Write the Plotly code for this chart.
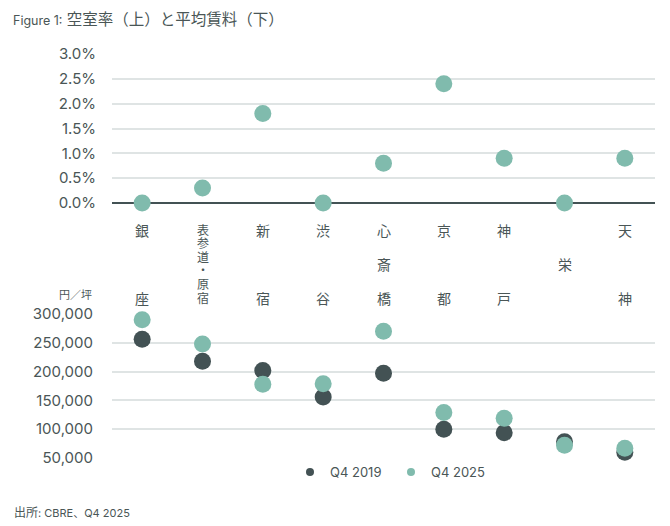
import plotly.graph_objects as go

categories = ["銀座", "表参道・原宿", "新宿", "渋谷", "心斎橋", "京都", "神戸", "栄", "天神"]
vacancy_pct = [0.0, 0.3, 1.8, 0.0, 0.8, 2.4, 0.9, 0.0, 0.9]
rent_2019 = [256000, 218000, 202000, 156000, 197000, 100000, 94000, 78000, 60000]
rent_2025 = [290000, 248000, 178000, 179000, 270000, 129000, 119000, 72000, 67000]
vac_ticks = [0, 0.5, 1.0, 1.5, 2.0, 2.5, 3.0]
rent_ticks = [50000, 100000, 150000, 200000, 250000, 300000]
series_names = ["Q4 2019", "Q4 2025"]

DARK = "#435254"
TEAL = "#80BBAD"
GRID = "#dfe4e4"
TXT = "#4a5656"
FONT = "Inter, Noto Sans CJK JP, sans-serif"

OFF = 8  # page body offset
W, H = 670 - OFF, 526 - OFF
# reference pixel positions of the plot frame
RL, RR, RT, RB = 112, 655, 54, 458
L, R, T, B = RL - OFF, 670 - RR, RT - OFF, 526 - RB
PH = RB - RT

def py(pix):
    return (RB - pix) / PH

def px(pix):
    return (pix - RL) / (RR - RL)

fig = go.Figure()
xs = list(range(len(categories)))

fig.add_trace(go.Scatter(x=xs, y=vacancy_pct, mode="markers", xaxis="x", yaxis="y",
                         marker=dict(size=17, color=TEAL), showlegend=False, cliponaxis=False,
                         hoverinfo="skip"))
fig.add_trace(go.Scatter(x=xs, y=rent_2019, mode="markers", xaxis="x2", yaxis="y2",
                         marker=dict(size=17, color=DARK), showlegend=False, cliponaxis=False))
fig.add_trace(go.Scatter(x=xs, y=rent_2025, mode="markers", xaxis="x2", yaxis="y2",
                         marker=dict(size=17, color=TEAL), showlegend=False, cliponaxis=False))
for nm, col in zip(series_names, [DARK, TEAL]):
    fig.add_trace(go.Scatter(x=[None], y=[None], mode="markers", name=nm, xaxis="x2", yaxis="y2",
                             marker=dict(size=8, color=col), showlegend=True))

top_dom = [py(203), py(54)]
bot_dom = [py(458), py(314)]

axis_common = dict(showgrid=False, zeroline=False, showticklabels=False, ticks="",
                   range=[-0.5, len(categories) - 0.5], showline=False)
fig.update_layout(
    width=W, height=H,
    margin=dict(l=L, r=R, t=T, b=B, autoexpand=False),
    paper_bgcolor="white", plot_bgcolor="white",
    font=dict(family=FONT, color=TXT, size=14),
    xaxis=dict(domain=[0, 1], anchor="y", **axis_common),
    xaxis2=dict(domain=[0, 1], anchor="y2", **axis_common),
    yaxis=dict(domain=top_dom, anchor="x", range=[0, 3], tickvals=vac_ticks,
               ticktext=[f"{v:.1f}%" for v in vac_ticks], showgrid=True, gridcolor=GRID,
               gridwidth=1.5, zeroline=True, zerolinecolor=DARK, zerolinewidth=1.5,
               ticklabelstandoff=15, tickfont=dict(size=15), automargin=False),
    yaxis2=dict(domain=bot_dom, anchor="x2", range=[50000, 300000], tickvals=rent_ticks,
                ticktext=[f"{v:,}" for v in rent_ticks], showgrid=True, gridcolor=GRID,
                gridwidth=1.5, zeroline=False, ticklabelstandoff=18, tickfont=dict(size=15),
                automargin=False),
    showlegend=True,
    legend=dict(orientation="h", x=px(391), xanchor="center", y=py(472), yanchor="middle",
                font=dict(size=13, color=TXT), itemwidth=30, bgcolor="rgba(0,0,0,0)",
                traceorder="normal", entrywidth=56),
    title=dict(text="<span style='font-size:12.5px'>Figure 1:</span> 空室率（上）と平均賃料（下）",
               x=(13 - OFF) / W, xanchor="left", xref="container", y=1 - (20 - OFF) / H,
               yanchor="middle", yref="container", font=dict(size=15.5, color=TXT, family=FONT),
               automargin=False),
)

annotations = []
top_pix, bot_pix = 230, 298
for i, cat in enumerate(categories):
    chars = list(cat)
    n = len(chars)
    for j, ch in enumerate(chars):
        if n == 1:
            p = (top_pix + bot_pix) / 2
        else:
            p = top_pix + (bot_pix - top_pix) * j / (n - 1)
        annotations.append(dict(x=i, xref="x", y=py(p), yref="paper", text=ch, showarrow=False,
                                xanchor="center", yanchor="middle",
                                font=dict(size=14 if n < 5 else 12, color=TXT, family=FONT)))

annotations.append(dict(x=px(75), xref="paper", y=py(295), yref="paper", text="円／坪",
                        showarrow=False, xanchor="center", yanchor="middle",
                        font=dict(size=11, color=TXT, family=FONT)))
annotations.append(dict(x=px(12), xref="paper", y=py(512), yref="paper",
                        text="出所<span style='font-size:11px'>: CBRE、Q4 2025</span>",
                        showarrow=False, xanchor="left", yanchor="middle",
                        font=dict(size=12, color=TXT, family=FONT)))
fig.update_layout(annotations=annotations)

fig.write_html("out.html")
